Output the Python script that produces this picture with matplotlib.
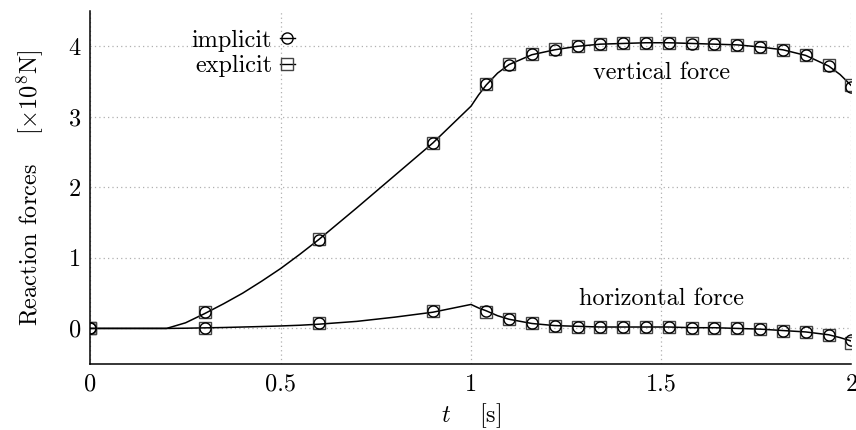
import matplotlib
matplotlib.use("Agg")
import matplotlib.pyplot as plt
from matplotlib.lines import Line2D

plt.rcParams["font.family"] = ["cmr10", "DejaVu Serif"]
plt.rcParams["mathtext.fontset"] = "cm"
plt.rcParams["axes.formatter.use_mathtext"] = True

# marker samples (implicit / explicit)
t_mark = [0, 0.3, 0.6, 0.9, 1.04, 1.10, 1.16, 1.22, 1.28, 1.34, 1.40,
          1.46, 1.52, 1.58, 1.64, 1.70, 1.76, 1.82, 1.88, 1.94, 2.00]
vert_implicit = [0, 0.23, 1.26, 2.63, 3.47, 3.74, 3.89, 3.95, 4.00, 4.03, 4.04,
                 4.04, 4.04, 4.03, 4.03, 4.02, 3.99, 3.95, 3.87, 3.72, 3.42]
vert_explicit = [0, 0.23, 1.27, 2.63, 3.47, 3.75, 3.89, 3.96, 4.01, 4.03, 4.04,
                 4.05, 4.05, 4.04, 4.03, 4.02, 3.99, 3.95, 3.88, 3.73, 3.45]
horiz_implicit = [0, 0.0, 0.07, 0.24, 0.24, 0.14, 0.07, 0.04, 0.02, 0.02, 0.02,
                  0.02, 0.02, 0.01, 0.01, 0.00, -0.01, -0.03, -0.05, -0.09, -0.17]
horiz_explicit = [0, 0.0, 0.07, 0.24, 0.23, 0.13, 0.07, 0.04, 0.02, 0.02, 0.02,
                  0.02, 0.02, 0.01, 0.01, 0.00, -0.01, -0.03, -0.05, -0.10, -0.20]

# continuous reference curves
t_line = [0, 0.2, 0.25, 0.3, 0.35, 0.4, 0.45, 0.5, 0.55, 0.6, 0.7, 0.8, 0.9,
          1.0, 1.02, 1.04, 1.07, 1.10, 1.16, 1.22, 1.28, 1.34, 1.40, 1.46,
          1.52, 1.58, 1.64, 1.70, 1.76, 1.82, 1.88, 1.94, 1.97, 2.0]
vert_line = [0, 0, 0.08, 0.21, 0.35, 0.50, 0.67, 0.85, 1.05, 1.26, 1.71, 2.17,
             2.63, 3.15, 3.31, 3.45, 3.62, 3.74, 3.88, 3.95, 4.00, 4.03, 4.04,
             4.05, 4.05, 4.04, 4.03, 4.02, 3.99, 3.95, 3.87, 3.72, 3.60, 3.44]
horiz_line = [0, 0, 0.003, 0.008, 0.013, 0.02, 0.027, 0.035, 0.045, 0.06, 0.10,
              0.16, 0.23, 0.34, 0.29, 0.25, 0.18, 0.13, 0.07, 0.04, 0.03, 0.02,
              0.02, 0.02, 0.02, 0.01, 0.01, 0.00, -0.01, -0.03, -0.05, -0.09,
              -0.13, -0.18]

x_ticks = [0, 0.5, 1, 1.5, 2]
x_ticklabels = ["0", "0.5", "1", "1.5", "2"]
y_ticks = [0, 1, 2, 3, 4]
y_ticklabels = ["0", "1", "2", "3", "4"]

fs = 17.5
fig = plt.figure(figsize=(8.56, 4.30), dpi=100)
ax = fig.add_axes([0.1057, 0.1542, 0.889, 0.8202])

ax.plot(t_line, vert_line, color="black", lw=1.1, zorder=3)
ax.plot(t_line, horiz_line, color="black", lw=1.1, zorder=3)

sq_style = dict(ls="none", marker="s", ms=8.5, mfc="none", mec="#444444", mew=1.0, zorder=4)
ci_style = dict(ls="none", marker="o", ms=8.0, mfc="none", mec="black", mew=1.0, zorder=5)
ax.plot(t_mark, vert_explicit, **sq_style)
ax.plot(t_mark, horiz_explicit, **sq_style)
ax.plot(t_mark, vert_implicit, **ci_style)
ax.plot(t_mark, horiz_implicit, **ci_style)

ax.set_xlim(0, 2)
ax.set_ylim(-0.5, 4.5)
ax.set_xticks(x_ticks)
ax.set_xticklabels(x_ticklabels)
ax.set_yticks(y_ticks)
ax.set_yticklabels(y_ticklabels)
ax.tick_params(length=0, labelsize=fs, pad=7)
ax.grid(True, color="#b0b0b0", ls=(0, (1, 2.5)), lw=0.9)
ax.spines["top"].set_visible(False)
ax.spines["right"].set_visible(False)
ax.spines["left"].set_linewidth(1.1)
ax.spines["bottom"].set_linewidth(1.1)

ax.set_xlabel(r"$t\quad$ [s]", fontsize=fs, labelpad=4)
ax.set_ylabel(r"Reaction forces $\quad[\times10^8$N$]$", fontsize=fs, labelpad=16)

ax.text(1.5, 3.62, "vertical force", fontsize=fs, ha="center", va="center")
ax.text(1.5, 0.42, "horizontal force", fontsize=fs, ha="center", va="center")

handles = [
    Line2D([], [], color="black", lw=1.0, marker="o", ms=8, mfc="none", mec="black"),
    Line2D([], [], color="black", lw=1.0, marker="s", ms=8.5, mfc="none", mec="#444444"),
]
ax.legend(handles, ["implicit", "explicit"], loc="upper right",
          bbox_to_anchor=(0.282, 0.975), frameon=False, markerfirst=False,
          handlelength=0.65, handletextpad=0.3, labelspacing=0.15, fontsize=fs,
          borderaxespad=0)

fig.savefig("out.png", dpi=100)
